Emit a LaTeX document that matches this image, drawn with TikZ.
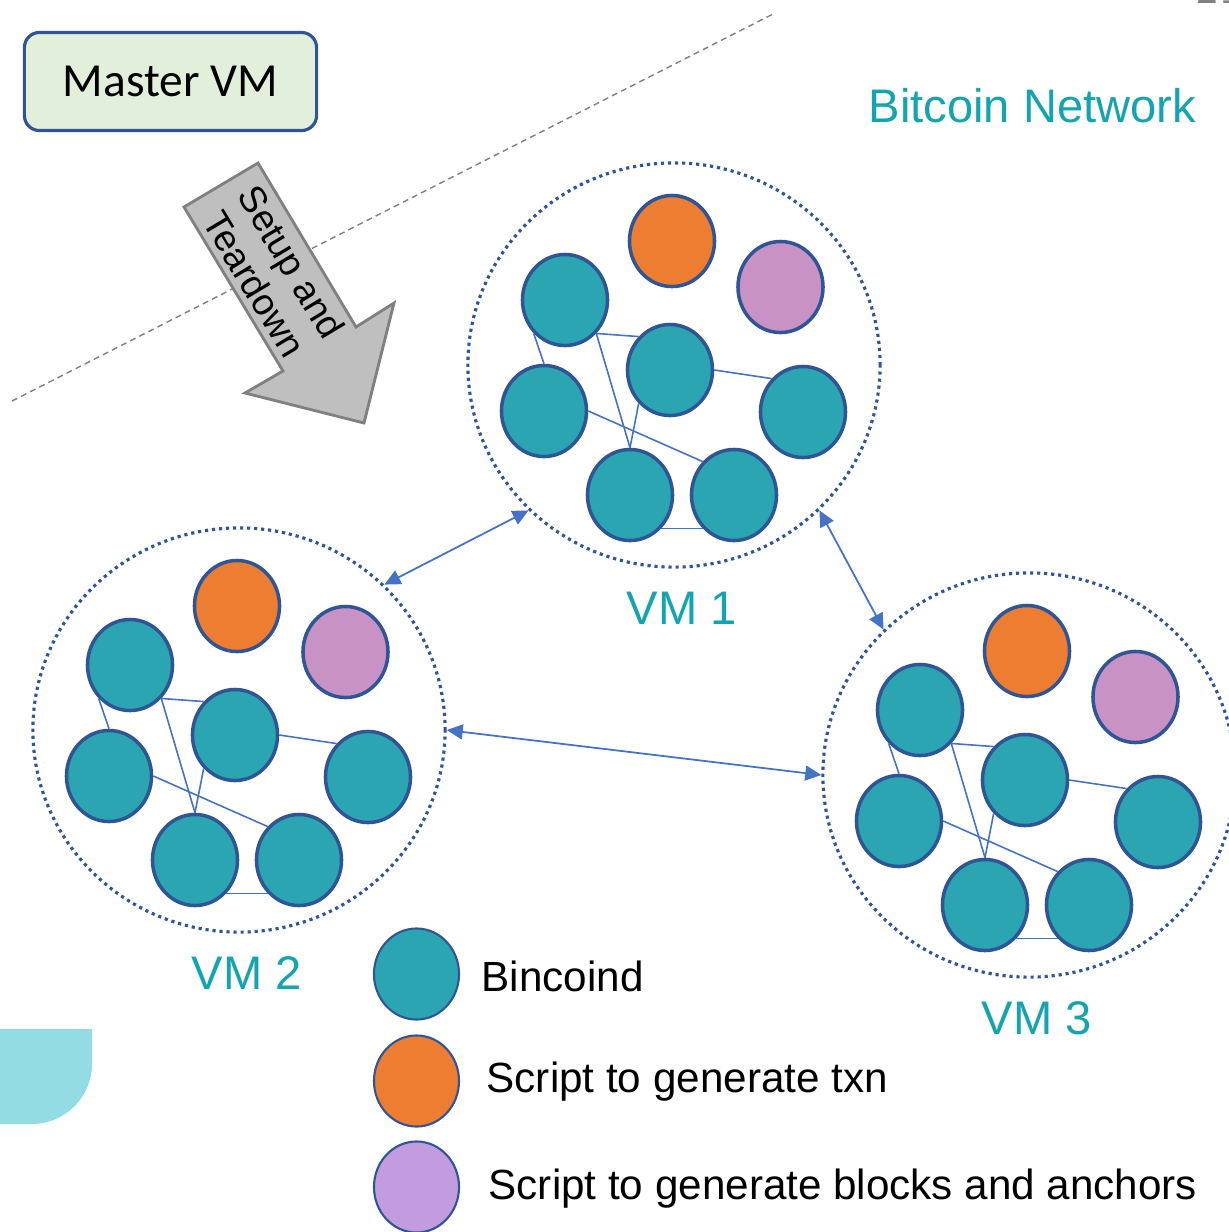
\documentclass[tikz,border=0pt]{standalone}
\usepackage{fontspec}
\setmainfont{Liberation Sans}
\newfontfamily\calibrifont{Carlito}
\usepackage{tikz}
\usetikzlibrary{arrows.meta,positioning,shapes.geometric}
\usepackage{xcolor}

\definecolor{nodeteal}{RGB}{44,165,178}
\definecolor{nodeorange}{RGB}{237,125,49}
\definecolor{nodepurple}{RGB}{200,147,196}
\definecolor{keypurple}{RGB}{195,155,223}
\definecolor{ringblue}{RGB}{47,85,151}
\definecolor{linkblue}{RGB}{68,114,196}
\definecolor{netteal}{RGB}{18,165,176}
\definecolor{mastergreen}{RGB}{226,239,218}
\definecolor{arrowgray}{RGB}{191,191,191}
\definecolor{arrowedge}{RGB}{128,128,128}
\definecolor{slidecyan}{RGB}{147,220,227}

\begin{document}
\begin{tikzpicture}[
  x=0.01cm, y=-0.01cm,
  bead/.style={ellipse, draw=ringblue, line width=1pt, inner sep=0pt,
               minimum width=0.85cm, minimum height=0.91cm},
  bincoind/.style={bead, fill=nodeteal},
  txnscript/.style={bead, fill=nodeorange},
  blockscript/.style={bead, fill=nodepurple},
  keybead/.style={line width=0.6pt},
  ring/.style={ellipse, draw=ringblue, line width=0.9pt, dash pattern=on 0.9pt off 1.1pt,
               minimum width=4.12cm, minimum height=4.04cm, inner sep=0pt},
  link/.style={draw=linkblue, line width=0.45pt},
  peer/.style={draw=linkblue, line width=0.5pt,
               {Triangle[length=1.6mm,width=1.5mm]}-{Triangle[length=1.6mm,width=1.5mm]}},
  masterbox/.style={draw=ringblue, line width=0.9pt, fill=mastergreen, rounded corners=1.5mm,
                    minimum width=2.92cm, minimum height=0.98cm,
                    font=\calibrifont\fontsize{13.5pt}{16pt}\selectfont},
  bigarrow/.style={draw=arrowedge, line width=0.8pt, fill=arrowgray},
  arrowtext/.style={align=center, rotate=-59, font=\fontsize{10.6pt}{12.2pt}\selectfont},
  vmlabel/.style={anchor=base west, inner sep=0pt, text=netteal,
                  font=\fontsize{13.4pt}{16pt}\selectfont},
  keytext/.style={anchor=base west, inner sep=0pt, font=\fontsize{12pt}{14pt}\selectfont},
  divider/.style={draw=arrowedge, line width=0.4pt, dash pattern=on 1.7pt off 1.2pt}
]
  \useasboundingbox (0,0) rectangle (1229,1232);

  % slide leftovers
  \fill[slidecyan] (0,1029) -- (92,1029) -- (92,1064)
    .. controls (92,1097) and (65,1124) .. (32,1124) -- (0,1124) -- cycle;
  \node[anchor=base west, text=arrowedge, inner sep=0pt,
        font=\calibrifont\fontsize{12pt}{14pt}\selectfont] (pagenum) at (1196,3) {21};
  \draw[divider] (12,401) -- (775,13);

  % master vm
  \node[masterbox] (master) at (170.5,81.5) {Master VM};
  \draw[bigarrow] (184,207) -- (258,163) -- (356,327) -- (394,303) -- (364,423)
    -- (245,393) -- (283,371) -- cycle;
  \node[arrowtext] (setup) at (273,273) {Setup and\\Teardown};

  \node[vmlabel] (network) at (868,122) {Bitcoin Network};

  % one cluster per vm
  \foreach \vm/\cx/\cy/\num in {vmone/674/365/1, vmtwo/239/730/2, vmthree/1029/775/3} {
    \begin{scope}[shift={(\cx,\cy)}]
      \node[ring] (\vm-ring) at (0,0) {};
      \node[txnscript] (\vm-txn) at (-2,-124) {};
      \node[blockscript] (\vm-block) at (106.5,-78) {};
      \node[bincoind] (\vm-a) at (-109,-65) {};
      \node[bincoind] (\vm-b) at (-4,5) {};
      \node[bincoind] (\vm-c) at (-130,46) {};
      \node[bincoind] (\vm-d) at (129,47) {};
      \node[bincoind] (\vm-e) at (-44,130) {};
      \node[bincoind] (\vm-f) at (60,130) {};
      \node[vmlabel] (\vm-label) at (-48,259) {VM \num};
    \end{scope}
    \draw[link] (\vm-a.south west) -- (\vm-c.north);
    \draw[link] (\vm-a.south east) -- (\vm-b.north west);
    \draw[link] (\vm-a.south east) -- (\vm-e.north);
    \draw[link] (\vm-b.south west) -- (\vm-e.north);
    \draw[link] (\vm-b.east) -- (\vm-d.north west);
    \draw[link] (\vm-c.east) -- (\vm-f.north west);
    \draw[link] (\vm-e.south east) -- (\vm-f.south west);
  }

  % links between the vms
  \draw[peer] (vmone-ring.225) -- (vmtwo-ring.45);
  \draw[peer] (vmone-ring.-45) -- (vmthree-ring.135);
  \draw[peer] (vmtwo-ring.east) -- (vmthree-ring.west);

  % legend
  \node[bincoind, keybead] (key-bin) at (416.5,974) {};
  \node[txnscript, keybead] (key-txn) at (416.5,1081) {};
  \node[bead, keybead, fill=keypurple] (key-block) at (416.5,1187) {};
  \node[keytext] (key-bin-text) at (481,991) {Bincoind};
  \node[keytext] (key-txn-text) at (486,1092) {Script to generate txn};
  \node[keytext] (key-block-text) at (488,1199) {Script to generate blocks and anchors};
\end{tikzpicture}
\end{document}
